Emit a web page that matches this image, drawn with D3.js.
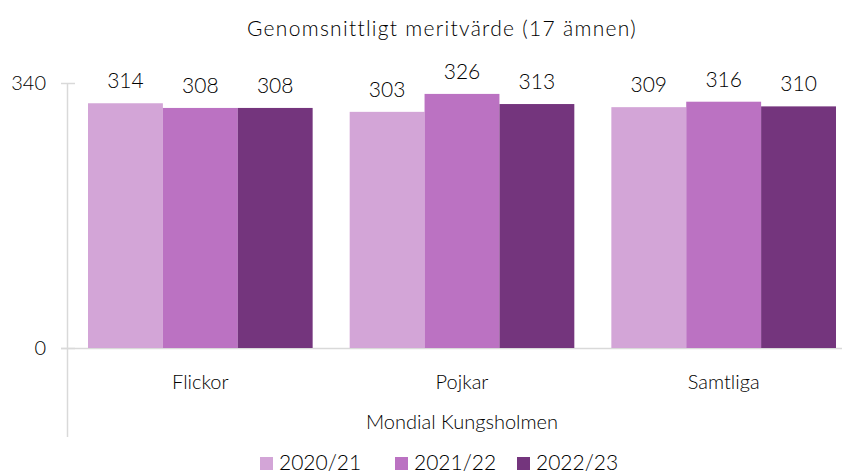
<!DOCTYPE html>
<html>
<head>
<meta charset="utf-8">
<script src="https://cdn.jsdelivr.net/npm/d3@7"></script>
<style>
  body { margin: 0; background: #fff; }
  svg { display: block; font-family: Lato, "Open Sans", sans-serif; font-weight: 300; }
  text { fill: #000; }
</style>
</head>
<body>
<div id="chart"></div>
<script>
const categories = ["Flickor", "Pojkar", "Samtliga"];
const seriesNames = ["2020/21", "2021/22", "2022/23"];
const values2020 = [314, 303, 309];
const values2021 = [308, 326, 316];
const values2022 = [308, 313, 310];
const yTicks = [0, 340];
const colors = ["#d3a5d7", "#bb72c2", "#74357d"];

const width = 842, height = 474;
const series = [values2020, values2021, values2022];

const svg = d3.select("#chart").append("svg")
    .attr("width", width)
    .attr("height", height);

const y = d3.scaleLinear().domain([0, 340]).range([348, 83]);

const x0 = d3.scaleBand()
    .domain(categories)
    .range([69.5, 854.5])
    .paddingInner(0.1415)
    .paddingOuter(0.0707);

const x1 = d3.scaleBand()
    .domain(seriesNames)
    .range([0, x0.bandwidth()]);

// title
svg.append("text")
    .attr("x", 442).attr("y", 36)
    .attr("text-anchor", "middle")
    .style("font-size", "21px")
    .style("letter-spacing", "1.3px")
    .text("Genomsnittligt meritvärde (17 ämnen)");

// axes lines
svg.append("line")
    .attr("x1", 67.5).attr("x2", 67.5)
    .attr("y1", y(340)).attr("y2", 437)
    .attr("stroke", "#d9d9d9").attr("stroke-width", 1.5);

svg.append("line")
    .attr("x1", 61).attr("x2", 842)
    .attr("y1", y(0) + 0.5).attr("y2", y(0) + 0.5)
    .attr("stroke", "#d9d9d9").attr("stroke-width", 1.5);

svg.selectAll(".ytick")
    .data(yTicks)
    .join("line")
    .attr("class", "ytick")
    .attr("x1", 61).attr("x2", 75)
    .attr("y1", d => y(d) + 0.5).attr("y2", d => y(d) + 0.5)
    .attr("stroke", "#d9d9d9").attr("stroke-width", 1.5);

svg.selectAll(".ylabel")
    .data(yTicks)
    .join("text")
    .attr("class", "ylabel")
    .attr("x", 46)
    .attr("y", d => y(d) + 7)
    .attr("text-anchor", "end")
    .style("font-size", "20px")
    .text(d => d);

// bars
const groups = svg.selectAll(".group")
    .data(categories)
    .join("g")
    .attr("class", "group")
    .attr("transform", d => `translate(${x0(d)},0)`);

groups.selectAll("rect")
    .data((d, i) => seriesNames.map((s, j) => ({s, j, v: series[j][i]})))
    .join("rect")
    .attr("x", d => x1(d.s))
    .attr("width", x1.bandwidth())
    .attr("y", d => y(d.v))
    .attr("height", d => y(0) - y(d.v))
    .attr("fill", d => colors[d.j]);

groups.selectAll(".val")
    .data((d, i) => seriesNames.map((s, j) => ({s, j, v: series[j][i]})))
    .join("text")
    .attr("class", "val")
    .attr("x", d => x1(d.s) + x1.bandwidth() / 2)
    .attr("y", d => y(d.v) - 15)
    .attr("text-anchor", "middle")
    .style("font-size", "21px")
    .text(d => d.v);

// category labels
svg.selectAll(".cat")
    .data(categories)
    .join("text")
    .attr("class", "cat")
    .attr("x", d => x0(d) + x0.bandwidth() / 2)
    .attr("y", 389)
    .attr("text-anchor", "middle")
    .style("font-size", "20px")
    .text(d => d);

svg.append("text")
    .attr("x", 462).attr("y", 429)
    .attr("text-anchor", "middle")
    .style("font-size", "20px")
    .text("Mondial Kungsholmen");

// legend
const legendX = [260, 395, 517];
const legend = svg.selectAll(".legend")
    .data(seriesNames)
    .join("g")
    .attr("class", "legend")
    .attr("transform", (d, i) => `translate(${legendX[i]},0)`);

legend.append("rect")
    .attr("x", 0).attr("y", 457)
    .attr("width", 13).attr("height", 13)
    .attr("fill", (d, i) => colors[i]);

legend.append("text")
    .attr("x", 19).attr("y", 470)
    .style("font-size", "21px")
    .text(d => d);
</script>
</body>
</html>
